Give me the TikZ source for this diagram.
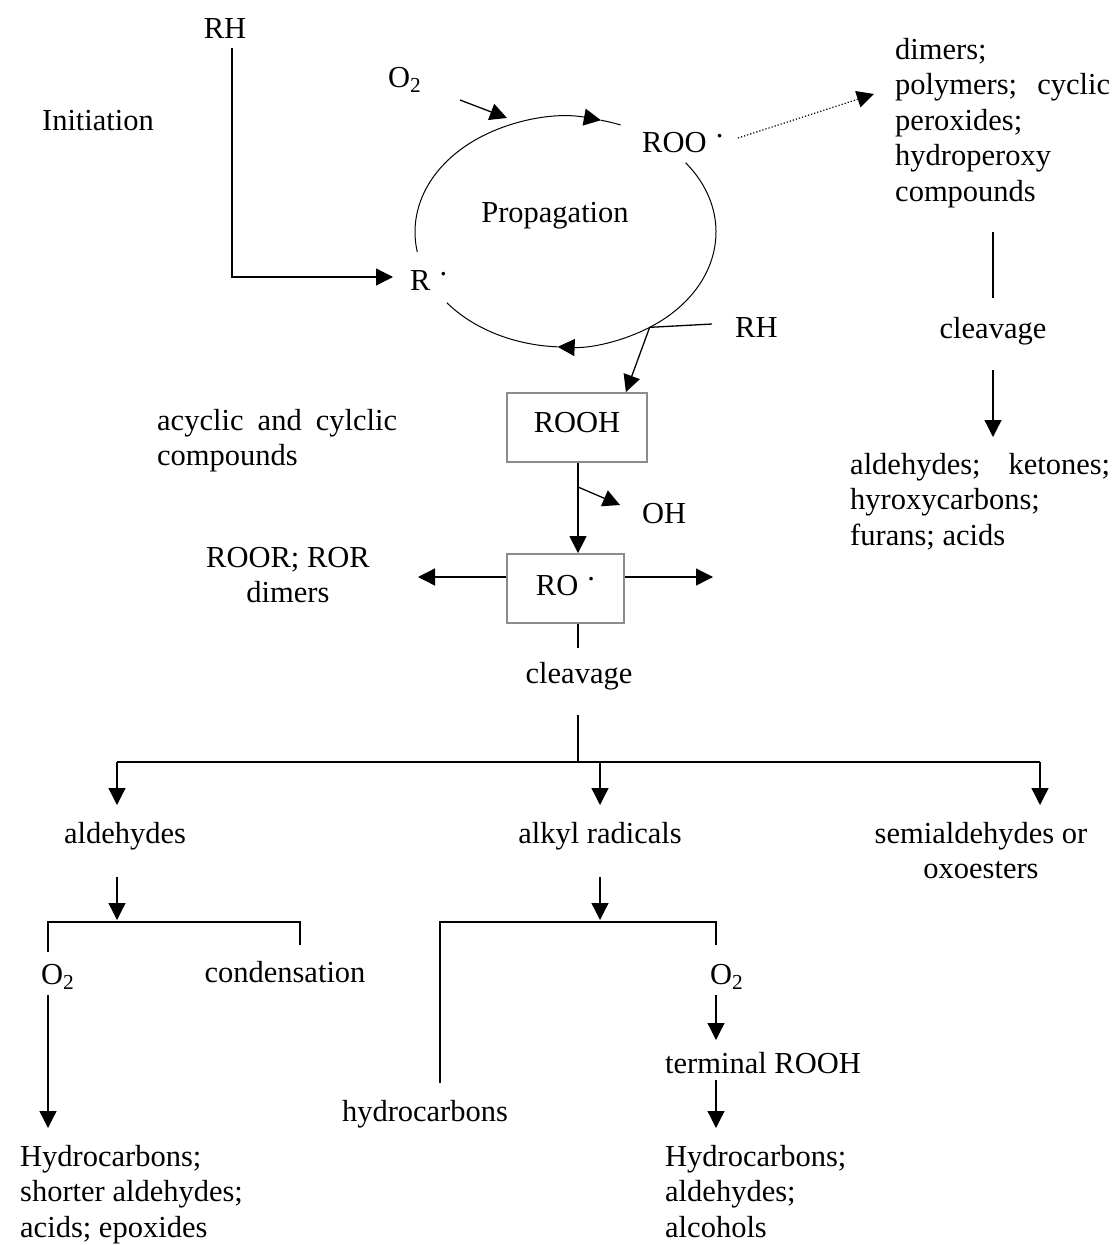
\documentclass[tikz,border=0pt]{standalone}
\usepackage{fontspec}
\setmainfont{Liberation Serif}
\usetikzlibrary{arrows.meta,calc}
% raised radical dot
\newcommand{\radot}{\hspace{0.3em}\raisebox{0.48em}{.}}
% stacked lines with the first baseline as the box baseline
\newcommand{\txtlines}[2][l]{\begin{tabular}[t]{@{}#1@{}}#2\end{tabular}}
\begin{document}
\begin{tikzpicture}[x=1pt,y=-1pt,
  every node/.style={inner sep=0pt, font=\fontsize{30.5}{35.5}\selectfont},
  tip/.style={-{Triangle[length=17pt,width=17pt]}},
  ln/.style={line width=1.3pt},
  arr/.style={line width=1.3pt, tip},
  cyc/.style={line width=1pt},
  cyctip/.style={line width=1pt, tip},
  box/.style={draw=black!45, line width=1.8pt},
  dots/.style={line width=1.2pt, dotted, tip}]
\useasboundingbox[fill=white] (0,0) rectangle (1118,1245);

% ---------- initiation and propagation cycle ----------
\node[anchor=base] (rhtop) at (225,38) {RH};
\node[anchor=base] (init) at (98,130) {Initiation};
\node[anchor=base west] (o2top) at (388,87) {O\textsubscript{2}};
\node[anchor=base west] (roo) at (642,152) {ROO\radot};
\node[anchor=base] (prop) at (555,222) {Propagation};
\node[anchor=base west] (r) at (410,290) {R\radot};
\node[anchor=base west] (rhmid) at (735,337) {RH};

\coordinate (initA) at (232,48);
\coordinate (initB) at (393,277);
\draw[arr] (initA) |- (initB);

\coordinate (o2A) at (460,100);
\coordinate (o2B) at (507,118);
\draw[arr] (o2A) -- (o2B);

\coordinate (cyc) at (565.5,232);
\draw[cyctip] ($(cyc)+(170:150.5 and 115)$) arc[start angle=170, end angle=283.6, x radius=150.5, y radius=115];
\draw[cyc] ($(cyc)+(283.6:150.5 and 115)$) arc[start angle=283.6, end angle=291.5, x radius=150.5, y radius=115];
\draw[cyctip] ($(cyc)+(-37:150.5 and 115)$) arc[start angle=-37, end angle=93, x radius=150.5, y radius=115];
\draw[cyc] ($(cyc)+(93:150.5 and 115)$) arc[start angle=93, end angle=142, x radius=150.5, y radius=115];

\coordinate (jn) at ($(cyc)+(56:150.5 and 115)$);
\coordinate (rhend) at (712,324);
\draw[ln] (jn) -- (rhend);

% ---------- peroxide side products ----------
\node[anchor=base west] (dim) at (895,59) {\txtlines{dimers;\\ \makebox[215pt][s]{polymers; cyclic}\\ peroxides;\\ hydroperoxy\\ compounds}};
\coordinate (dotA) at (738,138);
\coordinate (dotB) at (874,94);
\draw[dots] (dotA) -- (dotB);

\node[anchor=base] (clvR) at (993,338) {cleavage};
\coordinate (clvRa) at (993,232);
\coordinate (clvRb) at (993,298);
\coordinate (clvRc) at (993,370);
\coordinate (clvRd) at (993,437);
\draw[ln] (clvRa) -- (clvRb);
\draw[arr] (clvRc) -- (clvRd);
\node[anchor=base west] (ald1) at (850,474) {\txtlines{\makebox[260pt][s]{aldehydes; ketones;}\\ hyroxycarbons;\\ furans; acids}};

% ---------- hydroperoxide and alkoxyl radical ----------
\node[box, minimum width=140pt, minimum height=69pt, text height=21pt, text depth=12pt] (rooh) at (577,427.5) {ROOH};
\draw[arr] (jn) -- ($(rooh.north east)+(-22,0)$);

\node[anchor=base west] (acyc) at (157,430) {\txtlines{\makebox[240pt][s]{acyclic and cylclic}\\ compounds}};

\node[box, minimum width=117pt, minimum height=69pt, text height=21pt, text depth=8pt] (ro) at (565.5,588.5) {RO\radot};
\draw[arr] (rooh.south -| 578,0) -- (ro.north -| 578,0);
\coordinate (ohA) at (578,487);
\coordinate (ohB) at (620,505);
\draw[arr] (ohA) -- (ohB);
\node[anchor=base west] (oh) at (642,523) {OH};

\coordinate (roL) at (418,577);
\coordinate (roR) at (713,577);
\draw[arr] (ro.west |- roL) -- (roL);
\draw[arr] (ro.east |- roR) -- (roR);
\node[anchor=base] (roor) at (288,567) {\txtlines[c]{ROOR; ROR\\ dimers}};

% ---------- cleavage of the alkoxyl radical ----------
\coordinate (clvA) at (578,648);
\draw[ln] (ro.south -| clvA) -- (clvA);
\node[anchor=base] (clv) at (579,683) {cleavage};
\coordinate (clvB) at (578,715);
\coordinate (clvC) at (578,762);
\draw[ln] (clvB) -- (clvC);
\coordinate (brL) at (117,762);
\coordinate (brM) at (600,762);
\coordinate (brR) at (1040,762);
\draw[ln] (brL) -- (brR);
\draw[arr] (brL) -- (117,805);
\draw[arr] (brM) -- (600,805);
\draw[arr] (brR) -- (1040,805);

\node[anchor=base] (ald) at (125,843) {aldehydes};
\node[anchor=base] (alk) at (600,843) {alkyl radicals};
\node[anchor=base] (semi) at (981,843) {\txtlines[c]{semialdehydes or\\ oxoesters}};

% ---------- aldehyde branch ----------
\coordinate (aldA) at (117,877);
\coordinate (aldB) at (117,920);
\draw[arr] (aldA) -- (aldB);
\coordinate (abL) at (48,922);
\coordinate (abR) at (300,922);
\draw[ln] (48,952) -- (abL) -- (abR) -- (300,945);
\node[anchor=base west] (o2l) at (41,984) {O\textsubscript{2}};
\node[anchor=base] (cond) at (285,982) {condensation};
\coordinate (o2lA) at (48,995);
\coordinate (o2lB) at (48,1128);
\draw[arr] (o2lA) -- (o2lB);
\node[anchor=base west] (hydl) at (20,1166) {\txtlines{Hydrocarbons;\\ shorter aldehydes;\\ acids; epoxides}};

% ---------- alkyl radical branch ----------
\coordinate (alkA) at (600,877);
\coordinate (alkB) at (600,920);
\draw[arr] (alkA) -- (alkB);
\coordinate (kbL) at (440,922);
\coordinate (kbR) at (716,922);
\draw[ln] (440,1083) -- (kbL) -- (kbR) -- (716,945);
\node[anchor=base] (hyd) at (425,1121) {hydrocarbons};
\node[anchor=base west] (o2r) at (710,984) {O\textsubscript{2}};
\draw[arr] (716,995) -- (716,1040);
\node[anchor=base west] (term) at (665,1073) {terminal ROOH};
\draw[arr] (716,1080) -- (716,1128);
\node[anchor=base west] (hydr) at (665,1166) {\txtlines{Hydrocarbons;\\ aldehydes;\\ alcohols}};
\end{tikzpicture}
\end{document}
